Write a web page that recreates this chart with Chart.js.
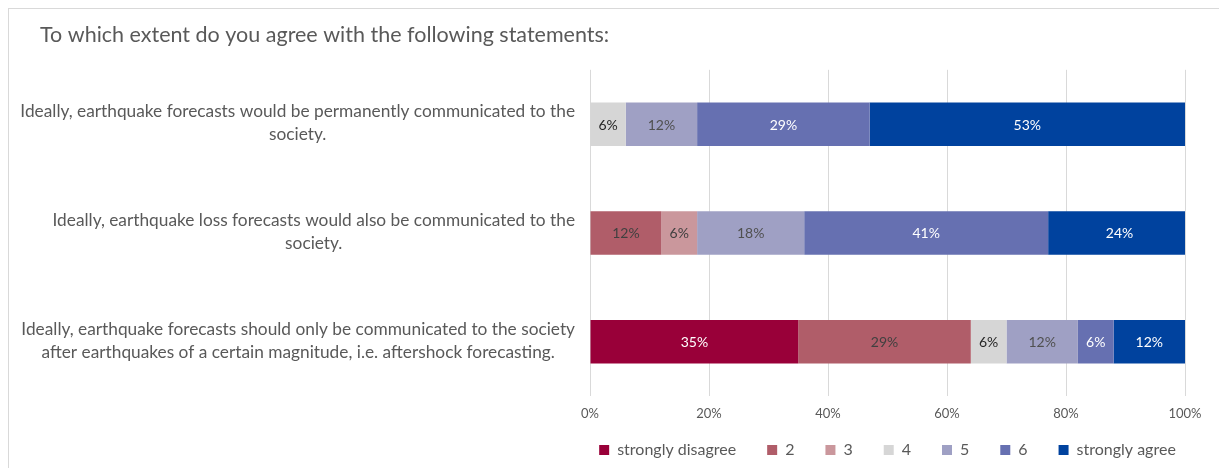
<!DOCTYPE html>
<html>
<head>
<meta charset="utf-8">
<script src="https://cdn.jsdelivr.net/npm/chart.js@4.4.1/dist/chart.umd.min.js"></script>
<style>
  html, body { margin: 0; padding: 0; background: #fff; overflow: hidden; }
  #frame { position: absolute; left: 8px; top: 8px; width: 1240px; height: 500px; border: 1px solid #d9d9d9; }
  #wrap { position: absolute; left: 0; top: 0; width: 1219px; height: 468px; }
</style>
</head>
<body>
<div id="frame"></div>
<div id="wrap"><canvas id="survey"></canvas></div>
<script>
const statements = [
  ["Ideally, earthquake forecasts would be permanently communicated to the", "society."],
  ["Ideally, earthquake loss forecasts would also be communicated to the", "society."],
  ["Ideally, earthquake forecasts should only be communicated to the society", "after earthquakes of a certain magnitude, i.e. aftershock forecasting."]
];
const answers = ["strongly disagree", "2", "3", "4", "5", "6", "strongly agree"];

// share of answers per statement, in percent
const stronglyDisagree = [0, 0, 35];
const answer2 = [0, 12, 29];
const answer3 = [0, 6, 0];
const answer4 = [6, 0, 6];
const answer5 = [12, 18, 12];
const answer6 = [29, 41, 6];
const stronglyAgree = [53, 24, 12];

const xTicks = [0, 20, 40, 60, 80, 100];

const seriesValues = [stronglyDisagree, answer2, answer3, answer4, answer5, answer6, stronglyAgree];
const fills = ["#990039", "#b05d69", "#ca979c", "#d6d6d6", "#9fa0c4", "#6670b1", "#00429e"];
const inkColors = ["#ffffff", "#404040", "#404040", "#262626", "#505050", "#ffffff", "#ffffff"];

const FONT = "Lato";
const GREY = "#595959";

/**
 * Writes the percentage in the middle of every segment
 */
const segmentLabels = {
  id: "segmentLabels",
  afterDatasetsDraw(chart) {
    const ctx = chart.ctx;
    ctx.save();
    ctx.font = "14px " + FONT;
    ctx.textAlign = "center";
    ctx.textBaseline = "middle";
    chart.data.datasets.forEach((ds, di) => {
      const meta = chart.getDatasetMeta(di);
      meta.data.forEach((bar, i) => {
        const v = ds.data[i];
        if (!v) return;
        ctx.fillStyle = inkColors[di];
        ctx.fillText(v + "%", (bar.x + bar.base) / 2, bar.y + 1);
      });
    });
    ctx.restore();
  }
};

/**
 * Statement labels: block right aligned against the axis, lines centred inside the block
 */
const statementLabels = {
  id: "statementLabels",
  afterDraw(chart) {
    const ctx = chart.ctx;
    const yScale = chart.scales.y;
    const right = 575;
    const lineH = 23;
    ctx.save();
    ctx.font = "17.3px " + FONT;
    ctx.fillStyle = GREY;
    ctx.textAlign = "center";
    ctx.textBaseline = "middle";
    statements.forEach((lines, i) => {
      const w = Math.max(...lines.map(l => ctx.measureText(l).width));
      const cx = right - w / 2;
      const cy = yScale.getPixelForTick(i) - 1;
      const top = cy - (lines.length - 1) * lineH / 2;
      lines.forEach((l, k) => ctx.fillText(l, cx, top + k * lineH));
    });
    ctx.restore();
  }
};

/**
 * Centres the legend row under the plot area instead of the whole canvas
 */
const legendUnderPlot = {
  id: "legendUnderPlot",
  afterLayout(chart) {
    const lg = chart.legend;
    const area = chart.chartArea;
    lg.left = area.left - 40;
    lg.right = area.right + 40;
    lg.top = area.bottom + 15;
  }
};

new Chart(document.getElementById("survey"), {
  type: "bar",
  plugins: [segmentLabels, statementLabels, legendUnderPlot],
  data: {
    labels: statements,
    datasets: answers.map((name, i) => ({
      label: name,
      data: seriesValues[i],
      backgroundColor: fills[i],
      borderWidth: 0,
      barPercentage: 1,
      categoryPercentage: 0.4,
    })),
  },
  options: {
    indexAxis: "y",
    responsive: true,
    maintainAspectRatio: false,
    animation: false,
    layout: { padding: { left: 40, right: 34, top: 0, bottom: 0 } },
    scales: {
      x: {
        stacked: true,
        min: 0,
        max: 100,
        afterBuildTicks: (scale) => { scale.ticks = xTicks.map(v => ({ value: v })); },
        afterFit: (scale) => { scale.height = 26; },
        grid: { color: "#d9d9d9", drawTicks: false },
        border: { display: false },
        ticks: {
          color: GREY,
          font: { family: FONT, size: 13 },
          padding: 10,
          callback: (v) => v + "%",
        },
      },
      y: {
        stacked: true,
        afterFit: (scale) => { scale.width = 550; },
        grid: { display: false },
        border: { display: false },
        ticks: { display: false },
      },
    },
    plugins: {
      tooltip: false,
      title: {
        display: true,
        text: "To which extent do you agree with the following statements:",
        align: "start",
        color: GREY,
        font: { family: FONT, size: 21.5, weight: "normal" },
        padding: { top: 22, bottom: 22 },
      },
      legend: {
        position: "bottom",
        align: "center",
        maxHeight: 46,
        labels: {
          color: GREY,
          font: { family: FONT, size: 16 },
          boxWidth: 10,
          boxHeight: 10,
          padding: 31,
        },
      },
    },
  },
});
</script>
</body>
</html>
